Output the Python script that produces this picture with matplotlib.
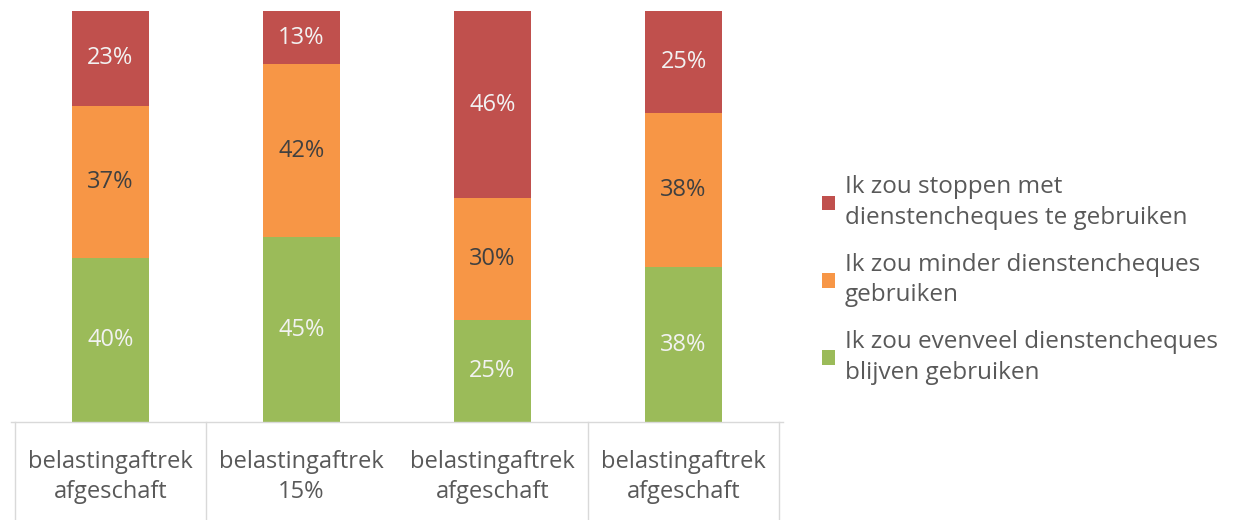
import matplotlib.pyplot as plt
from matplotlib.patches import Patch
from matplotlib.transforms import blended_transform_factory

plt.rcParams["font.family"] = ["Open Sans", "DejaVu Sans"]

categories = ["belastingaftrek\nafgeschaft", "belastingaftrek\n15%",
              "belastingaftrek\nafgeschaft", "belastingaftrek\nafgeschaft"]
blijven = [40, 45, 25, 38]
minder = [37, 42, 30, 38]
stoppen = [23, 13, 46, 25]
series_names = ["Ik zou evenveel dienstencheques\nblijven gebruiken",
                "Ik zou minder dienstencheques\ngebruiken",
                "Ik zou stoppen met\ndienstencheques te gebruiken"]
colors = ["#9BBB59", "#F79646", "#C0504D"]
label_colors = ["#F2F2F2", "#404040", "#F2F2F2"]
# categories that share a box on the axis (no divider between them)
dividers = [-0.5, 0.5, 2.5, 3.5]

W, H = 1235, 520
fig = plt.figure(figsize=(W / 100, H / 100), dpi=100)
ax = fig.add_axes([15 / W, 1 - 422 / H, (779 - 15) / W, (422 - 11) / H])

series = [blijven, minder, stoppen]
x = list(range(len(categories)))
totals = [a + b + c for a, b, c in zip(blijven, minder, stoppen)]
bottoms = [0.0] * len(categories)
for vals, col, lcol in zip(series, colors, label_colors):
    heights = [v / t * 100 for v, t in zip(vals, totals)]
    ax.bar(x, heights, width=0.4, bottom=bottoms, color=col)
    for xi, b, h, v in zip(x, bottoms, heights, vals):
        ax.text(xi, b + h / 2, f"{v}%", ha="center", va="center",
                fontsize=17, color=lcol)
    bottoms = [b + h for b, h in zip(bottoms, heights)]

ax.set_xlim(-0.5, 3.5)
ax.set_ylim(0, 100)
ax.axis("off")

# category axis box
tr = blended_transform_factory(ax.transData, fig.transFigure)
y_top = 1 - 422 / H
ax.plot([-0.52, 3.52], [y_top, y_top], transform=tr, color="#D9D9D9",
        lw=1, clip_on=False)
for d in dividers:
    ax.plot([d, d], [y_top, 0], transform=tr, color="#D9D9D9", lw=1,
            clip_on=False)
for xi, lab in zip(x, categories):
    ax.text(xi, 1 - 477 / H, lab, transform=tr, ha="center", va="center",
            fontsize=17, color="#595959", linespacing=1.3)

handles = [Patch(facecolor=c, edgecolor="none") for c in colors]
leg = fig.legend(handles[::-1], series_names[::-1], loc="center left",
                 bbox_to_anchor=(812 / W, 1 - 280 / H), frameon=False,
                 fontsize=17.5, labelcolor="#595959", handlelength=0.55,
                 handleheight=0.55, handletextpad=0.4, labelspacing=0.95,
                 borderaxespad=0)
for t in leg.get_texts():
    t.set_linespacing(1.35)

fig.savefig("out.png", dpi=100)
